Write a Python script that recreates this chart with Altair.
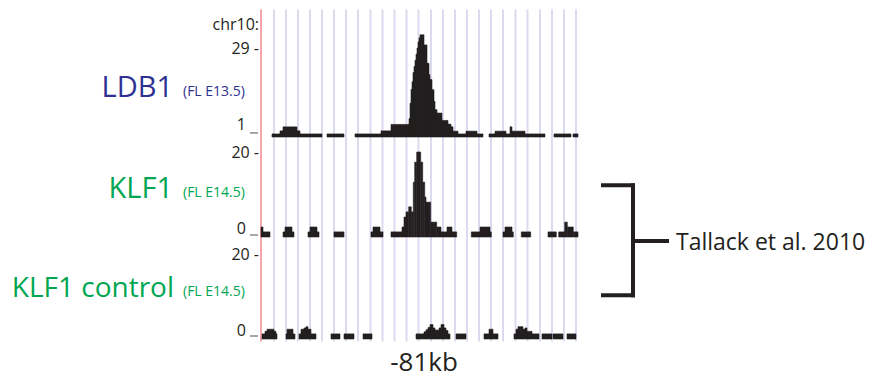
import altair as alt
import pandas as pd

FONT = "Open Sans"
BAR = "#231f20"
GRID = "#dcdaef"
RED = "#f4a6ac"
BLUE = "#2e3192"
GREEN = "#00a651"

# genomic window (arbitrary position units, left edge = 0)
x_domain = [0, 320]
grid_pos = [14, 26, 38, 50, 62, 74, 86, 98, 110.5, 122.5, 134.5, 146.5, 158.5,
            171, 183, 195, 207, 219, 231, 243, 255.5, 267.5, 280, 292, 304, 316]
view_start = [1]

track_names = ["LDB1", "KLF1", "KLF1 control"]
track_samples = ["(FL E13.5)", "(FL E14.5)", "(FL E14.5)"]
chrom_label = "chr10:"
pos_label = "-81kb"
ref_label = "Tallack et al. 2010"

# LDB1 (FL E13.5)
ldb1_start = [12, 20, 23, 37, 40, 67, 95, 121, 131, 149, 150, 151, 152, 153, 154, 155, 156, 157,
              158, 159, 160, 164, 167, 169, 170, 172, 174, 175, 177, 182, 188, 191, 193, 198,
              206, 217, 229, 235, 246, 250, 252, 265, 294, 313]
ldb1_end = [20, 23, 37, 40, 62, 84, 121, 131, 149, 150, 151, 152, 153, 154, 155, 156, 157, 158,
            159, 160, 164, 167, 169, 170, 172, 174, 175, 177, 182, 188, 191, 193, 198, 206,
            217, 223, 235, 246, 250, 252, 265, 285, 311, 318]
ldb1_value = [1, 2, 3.3, 2, 1, 1, 1, 2, 4.1, 6, 11, 15.5, 18, 21, 23, 25, 27, 29,
              31, 32.3, 33.3, 30, 24, 20.3, 18.7, 15.4, 11.6, 8.9, 7.8, 5.4, 4.2, 3.3, 1.9, 1,
              1.9, 1, 1, 1.9, 1, 3.3, 1.9, 1, 1, 1]
ldb1_ticks = [1, 29]

# KLF1 (FL E14.5)
klf1_start = [1, 3, 23, 25, 32, 48, 50, 57, 74, 111, 113, 120, 131, 142, 144, 146, 148.7, 151.3,
              153.3, 154.7, 156.7, 160.7, 162.7, 164.7, 166, 170.7, 176.7, 181, 187, 192,
              211.3, 220, 230, 243, 245, 252, 261.3, 288, 298.7, 304.7, 307.3, 313.3]
klf1_end = [3, 10, 25, 32, 34, 50, 57, 59, 84, 113, 120, 123, 142, 144, 146, 148.7, 151.3, 153.3,
            154.7, 156.7, 160.7, 162.7, 164.7, 166, 170.7, 176.7, 181, 187, 192, 196.7,
            220, 230, 231.3, 245, 252, 253.3, 270.7, 296.3, 304.7, 307.3, 313.3, 318]
klf1_value = [2.35, 1.2, 1.2, 2.35, 1.2, 1.2, 2.35, 1.2, 1.2, 1.2, 2.35, 1.2, 1.2, 2.35, 4.7, 5.9, 7.1, 5.9,
              12.9, 17.6, 20, 17.6, 12.9, 9.4, 8.2, 3.5, 2.35, 1.2, 2.35, 1.2,
              1.2, 2.35, 1.2, 1.2, 2.35, 1.2, 1.2, 1.2, 1.2, 3.5, 2.35, 1.2]
klf1_ticks = [0, 20]

# KLF1 control (FL E14.5)
ctrl_start = [2, 5, 7, 14, 16, 26, 27, 33, 39, 41, 44, 46, 48, 51, 71, 84, 103,
              156, 164, 166, 168, 170, 173, 175, 179, 181, 184, 186, 188, 196,
              224, 229, 233, 254, 256, 258, 263, 265, 267, 272, 282, 293, 307]
ctrl_end = [5, 7, 14, 16, 17, 27, 33, 35, 41, 44, 46, 48, 51, 56, 80, 94, 112,
            164, 166, 168, 170, 173, 175, 179, 181, 184, 186, 188, 190, 206,
            229, 233, 238, 256, 258, 263, 265, 267, 272, 279, 292, 303, 316]
ctrl_value = [1.2, 1.8, 2.3, 1.8, 1.2, 1.2, 2.3, 1.2, 1.2, 2.3, 2.6, 2.9, 2.3, 1.2, 1.2, 1.2, 1.2,
              1.2, 1.7, 2.2, 2.7, 3.4, 2.6, 2.1, 2.6, 3.4, 2.6, 2.0, 1.2, 1.2,
              1.2, 2.3, 1.2, 1.2, 2.3, 2.9, 2.3, 2.6, 1.8, 1.2, 1.2, 1.2, 1.2]
ctrl_ticks = [0, 20]

# ---------------------------------------------------------------- layout
W, H = 859, 372
xscale = alt.Scale(domain=x_domain, range=[252, 572], nice=False, zero=False)
TOP, BOTTOM = 1.5, 333.5


def xenc(field):
    return alt.X(field, type="quantitative", scale=xscale, axis=None)


def track(start, end, value, ticks, domain_max, yrange, under_off):
    ys = alt.Scale(domain=[0, domain_max], range=yrange, nice=False, zero=False)
    df = pd.DataFrame({"start": start, "end": end, "value": value})
    bars = alt.Chart(df).transform_calculate(zero="0").mark_rect(
        color=BAR, stroke=BAR, strokeWidth=0.6).encode(
        x=xenc("start"), x2="end",
        y=alt.Y("value:Q", scale=ys, axis=None), y2="zero:Q")
    top = pd.DataFrame({"v": [ticks[1]], "t": [f"{ticks[1]} -"]})
    bot = pd.DataFrame({"v": [ticks[0]], "t": [f"{ticks[0]}"]})
    top_lab = alt.Chart(top).mark_text(align="right", baseline="alphabetic", font=FONT,
                                        fontSize=16, color=BAR, dy=6).encode(
        x=alt.value(251), y=alt.Y("v:Q", scale=ys, axis=None), text="t:N")
    bot_lab = alt.Chart(bot).mark_text(align="right", baseline="alphabetic", font=FONT,
                                        fontSize=16, color=BAR, dy=-3.5).encode(
        x=alt.value(238), y=alt.Y("v:Q", scale=ys, axis=None), text="t:N")
    under = alt.Chart(bot).mark_rule(color="#8a8a8a", strokeWidth=1.5, yOffset=under_off).encode(
        x=alt.value(242), x2=alt.value(250), y=alt.Y("v:Q", scale=ys, axis=None))
    return alt.layer(bars, top_lab, bot_lab, under)


def text(t, x, y, size, color, align="left"):
    return alt.Chart(alt.Data(values=[{"t": t}])).mark_text(
        align=align, baseline="alphabetic", font=FONT, fontSize=size, color=color).encode(
        x=alt.value(x), y=alt.value(y), text="t:N")


def seg(x, x2, y, y2):
    return alt.Chart(alt.Data(values=[{"k": 0}])).mark_rule(
        color=BAR, strokeWidth=4, strokeCap="square").encode(
        x=alt.value(x), x2=alt.value(x2), y=alt.value(y), y2=alt.value(y2))


grid = alt.Chart(pd.DataFrame({"pos": grid_pos})).mark_rule(color=GRID, strokeWidth=2).encode(
    x=xenc("pos"), y=alt.value(TOP), y2=alt.value(BOTTOM))
red = alt.Chart(pd.DataFrame({"pos": view_start})).mark_rule(color=RED, strokeWidth=2).encode(
    x=xenc("pos"), y=alt.value(TOP), y2=alt.value(BOTTOM))

t1 = track(ldb1_start, ldb1_end, ldb1_value, ldb1_ticks, 29, [129, 40], -1)
t2 = track(klf1_start, klf1_end, klf1_value, klf1_ticks, 20, [229, 144], -2)
t3 = track(ctrl_start, ctrl_end, ctrl_value, ctrl_ticks, 20, [331, 246], -3)

annots = [
    text(chrom_label, 251, 22, 16, BAR, "right"),
    text(track_names[0], 165, 88.5, 29, BLUE, "right"),
    text(track_samples[0], 175, 87.5, 14, BLUE),
    text(track_names[1], 165, 190, 29, GREEN, "right"),
    text(track_samples[1], 175, 189, 14, GREEN),
    text(track_names[2], 166, 288.5, 28, GREEN, "right"),
    text(track_samples[2], 175, 288, 14, GREEN),
    text(pos_label, 416, 363, 26, BAR, "center"),
    text(ref_label, 668, 242, 23, BAR),
    seg(595, 625, 177.3, 177.3),
    seg(625, 625, 177.3, 287.3),
    seg(595, 625, 287.3, 287.3),
    seg(625, 659, 233, 233),
]

chart = alt.layer(grid, red, t1, t2, t3, *annots).resolve_scale(y="independent").properties(
    width=W, height=H, autosize=alt.AutoSizeParams(type="none"), padding=0,
    background="white").configure_view(strokeWidth=0)

chart.save("out.html", embed_options={"renderer": "svg", "actions": False})
